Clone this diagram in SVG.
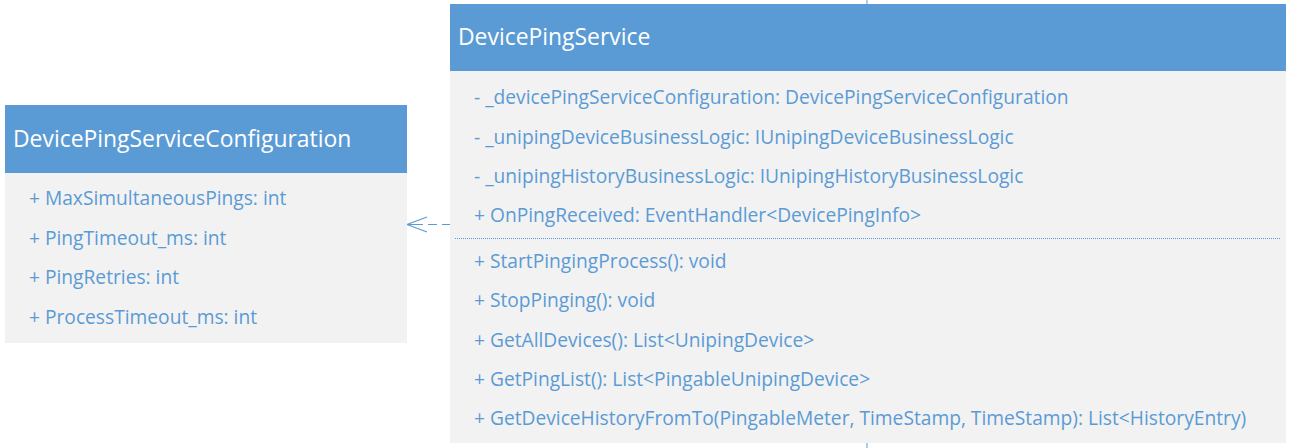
<svg xmlns="http://www.w3.org/2000/svg" width="1290" height="448" viewBox="0 0 1290 448">
<style>
.hdr{fill:#5B9BD5}
.body{fill:#F2F2F2}
.title{font-family:"Open Sans","Noto Sans",sans-serif;font-size:22.9px;fill:#FFFFFF}
.mem{font-family:"Open Sans","Noto Sans",sans-serif;font-size:19.2px;fill:#5B9BD5}
</style>
<rect width="1290" height="448" fill="#FFFFFF"/>
<g id="connectors" stroke="#5B9BD5" fill="none" stroke-width="1.2">
<line x1="867" y1="0" x2="867" y2="4" stroke-width="1"/>
<line x1="867" y1="443" x2="867" y2="448" stroke-width="1"/>
<path d="M450,224.5 H442 M437,224.5 H428 M423,224.5 H408"/>
<polyline points="427,217 407,224.5 427,232"/>
</g>
<g id="DevicePingServiceConfiguration">
<rect class="hdr" x="5" y="105" width="402" height="68"/>
<rect class="body" x="5" y="173" width="402" height="170"/>
<text class="title" x="13" y="147">DevicePingServiceConfiguration</text>
<text class="mem" x="29" y="205">+ MaxSimultaneousPings: int</text>
<text class="mem" x="29" y="245">+ PingTimeout_ms: int</text>
<text class="mem" x="29" y="284">+ PingRetries: int</text>
<text class="mem" x="29" y="324">+ ProcessTimeout_ms: int</text>
</g>
<g id="DevicePingService">
<rect class="hdr" x="450" y="4" width="836" height="67"/>
<rect class="body" x="450" y="71" width="836" height="372"/>
<text class="title" x="458" y="45">DevicePingService</text>
<text class="mem" x="474" y="104">- _devicePingServiceConfiguration: DevicePingServiceConfiguration</text>
<text class="mem" x="474" y="144">- _unipingDeviceBusinessLogic: IUnipingDeviceBusinessLogic</text>
<text class="mem" x="474" y="183">- _unipingHistoryBusinessLogic: IUnipingHistoryBusinessLogic</text>
<text class="mem" x="474" y="222">+ OnPingReceived: EventHandler&lt;DevicePingInfo&gt;</text>
<line x1="455" y1="238.5" x2="1280" y2="238.5" stroke="#5B9BD5" stroke-width="1" stroke-dasharray="1,1"/>
<text class="mem" x="474" y="268">+ StartPingingProcess(): void</text>
<text class="mem" x="474" y="307">+ StopPinging(): void</text>
<text class="mem" x="474" y="347">+ GetAllDevices(): List&lt;UnipingDevice&gt;</text>
<text class="mem" x="474" y="386">+ GetPingList(): List&lt;PingableUnipingDevice&gt;</text>
<text class="mem" x="474" y="425">+ GetDeviceHistoryFromTo(PingableMeter, TimeStamp, TimeStamp): List&lt;HistoryEntry)</text>
</g>
</svg>
